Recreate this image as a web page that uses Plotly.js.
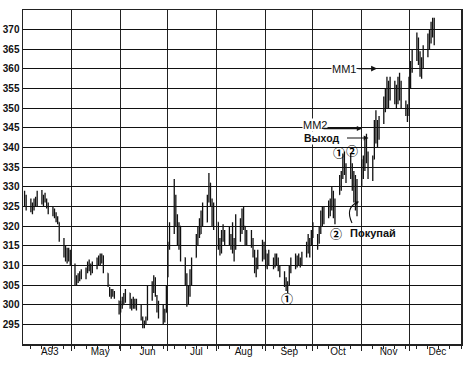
<!DOCTYPE html>
<html>
<head>
<meta charset="utf-8">
<script src="https://cdn.plot.ly/plotly-3.0.1.min.js"></script>
<style>html,body{margin:0;padding:0;background:#fff;}#chart{width:472px;height:365px;}</style>
</head>
<body>
<div id="chart"></div>
<script>
// Trading calendar (weekdays) 1993-04-01 .. 1993-12-17
const firstDay = '1993-04-01';
const lastDay = '1993-12-17';

// Daily prices, one row per week (Mon..Fri); first row = Apr 1-2
const high = [
  329,328,
  327,326,327,327.5,329,
  329.2,328,328.5,327,326,
  325,324.5,323.5,322.5,321,
  317,315,314.5,314.5,314,
  310.5,307.5,308,308.5,309,
  309.5,311,311.5,310.5,311,
  312,312.5,313,313,312.5,
  308,304.5,304,304,303.5,
  301,301,302,303,304,
  303,301.5,302,301.5,301.5,
  300,297,296,297,305,
  306,307.5,307,302.5,301,
  300,299,305,316,321,
  332,328,323,321,320,
  312,308,305,309,312,
  318,320,322,324,326,
  328,333.5,331,327,326,
  321,317,319,320.5,319,
  320,318,321,317,323,
  322,324.5,325,320,319,
  319,317,314,312,314,
  316.5,316,314,313,314,
  312,313,313,312,310,
  308.5,307,306,310,312,
  313,312.5,313,312,313.5,
  316,318,317,319,321,
  318,320,324,325,325,
  326.5,327,330,329,327,
  333,334,338.5,339,336,
  338.5,336,334,333,332,
  337,338,342,343.5,339,
  338,347,349.5,347,348,
  353,355,358,357,358,
  357,356,358,359,357,
  352,351,358,362,365,
  369.3,368,364.5,363,366,
  369,370,372,373,373
];
const low = [
  325,324,
  323.5,323,324,325,325,
  325.5,325,326,324.5,323,
  322.5,322,321,320.5,316,
  312,311,310.5,311,310,
  305,305,305.5,306,306.5,
  306.5,308,308.5,307.5,308,
  309,310,310,310.5,308,
  304.5,302,301.5,302,301.5,
  297.5,298,299,300,300.5,
  299,298.5,299,299,298.5,
  296,294,294,295,296,
  301,303,302,298,296.5,
  295,295.5,298,307,314,
  318,320,315,314,311,
  305,299.5,300,302,305,
  312,315,317,318,320,
  321,326,325,320,319,
  314,312.5,313,316,315,
  315,314,313,311,314,
  316,318,319,315,315,
  314.5,312,308,307,309,
  311,311.5,309.5,309,310,
  309,309.5,310,308.5,307,
  304.5,303.5,303,305,308,
  309,309.5,310,309.5,310,
  312,313,312,315,317,
  314,315.5,318,320,320.5,
  322,322.5,324,322,320.5,
  328,329,332,333,331,
  332,329,326,324,322.5,
  330,332,334,336,332,
  331.5,337,341,340,342,
  346,349,350,350,352,
  351,350,351,352,350,
  348,346.5,348,355,359,
  362,361,358,357.5,360,
  363,365,366.5,368,366
];
const close = [
  327,325,
  324,325,326.5,326,328,
  327,327.5,326.5,325,324,
  324,323,322,321,317,
  313,314,311.5,313.5,310.5,
  306,306.5,307,308,307.5,
  309,310.5,309,308.5,310.5,
  311,311.5,312,312.5,309,
  305,303,303,302.5,302,
  298.5,300.5,300,302,303,
  300,300.5,301,299.5,301,
  296.5,294.5,295.5,296.5,303,
  304,306.5,303,299,297.5,
  296,298,304,315,319,
  326,321,317,320,312,
  306,301,303.5,308,306,
  316,319,318,323,321,
  327,331,326,322,324,
  315,313.5,318,317,318.5,
  316,317,314,312,321,
  320,322,320,317,316,
  316,313,309,310.5,313,
  315,312,310,312,310.5,
  311,312,310.5,309,308,
  305,304,305.5,309,311,
  310,312,310.5,311.5,312.5,
  315,314,316.5,318,317.5,
  317,319,322,321,324,
  325,326,328,323,326,
  332,333,337,334,333,
  334,330,328,331,330,
  335,336,340,338,334,
  337,345,343,346,347,
  351,354,352,356,353,
  355,352,357,353,351,
  349,349,356,361,364,
  365,363,360,362,365,
  367,368,370,371,369
];
const open = [
  326,327,
  325,324,325,326.5,326,
  328,327,327.5,326.5,325,
  324,324,323,322,321,
  316,313,314,311.5,313.5,
  310,306,306.5,307,308,
  307.5,309,310.5,309,308.5,
  310.5,311,311.5,312,312.5,
  308,305,303,303,302.5,
  301,298.5,300.5,300,302,
  303,300,300.5,301,299.5,
  300,296.5,294.5,295.5,296.5,
  303,304,306.5,302,299,
  297.5,296,298,307,315,
  319,326,321,317,320,
  312,306,301,303.5,308,
  312,316,319,318,323,
  321,327,331,326,322,
  321,315,313.5,318,317,
  318.5,316,317,314,315,
  321,320,322,320,317,
  316,316,313,309,310.5,
  313,315,312,310,312,
  310.5,311,312,310.5,309,
  308,305,304,305.5,309,
  311,310,312,310.5,311.5,
  312.5,315,314,316.5,318,
  317.5,317,319,322,321,
  324,325,326,328,323,
  328,332,333,337,334,
  333,334,330,328,331,
  330,335,336,340,338,
  334,337,345,343,346,
  347,351,354,352,356,
  353,355,352,357,353,
  351,349,349,356,361,
  364,365,363,360,362,
  365,367,368,370,371
];

const yTicks = [295,300,305,310,315,320,325,330,335,340,345,350,355,360,365,370];
const monthStarts = ['1993-05-01','1993-06-01','1993-07-01','1993-08-01','1993-09-01','1993-10-01','1993-11-01','1993-12-01'];
const monthLabelDates = ['1993-04-17','1993-05-19','1993-06-18','1993-07-19','1993-08-18','1993-09-16','1993-10-17','1993-11-18','1993-12-19'];
const monthLabels = ['A93','May','Jun','Jul','Aug','Sep','Oct','Nov','Dec'];

function tradingDays(s, e) {
  const out = [];
  const d = new Date(s + 'T00:00:00Z');
  const end = new Date(e + 'T00:00:00Z');
  while (d <= end) {
    const wd = d.getUTCDay();
    if (wd !== 0 && wd !== 6) out.push(d.toISOString().slice(0, 10));
    d.setUTCDate(d.getUTCDate() + 1);
  }
  return out;
}
const dates = tradingDays(firstDay, lastDay).slice(0, high.length);

const xRange = ['1993-03-31', '1994-01-03'];
const black = '#111';

const traces = [
  {
    type: 'ohlc', x: dates, open: open, high: high, low: low, close: close,
    increasing: {line: {color: black, width: 1.3}},
    decreasing: {line: {color: black, width: 1.3}},
    tickwidth: 0.35, hoverinfo: 'skip', showlegend: false
  },
  {
    type: 'scatter', mode: 'markers', x: [dates[0]], y: [null],
    xaxis: 'x2', yaxis: 'y', hoverinfo: 'skip', showlegend: false
  }
];

function px(x) { return (x - 23) / 438; }
function py(y) { return (344 - y) / 334; }

const fam = 'Liberation Sans, Arial, sans-serif';
const circFam = 'Noto Sans CJK JP, DejaVu Sans, sans-serif';

function label(x, y, text, font, bg) {
  return {xref:'paper', yref:'paper', x:px(x), y:py(y), text:text, showarrow:false,
          xanchor:'center', yanchor:'middle', font:font,
          bgcolor: bg ? '#fff' : 'rgba(0,0,0,0)', borderpad:0};
}
function arrow(x, y, ax, ay, size, width) {
  return {xref:'paper', yref:'paper', x:px(x), y:py(y), ax:ax, ay:ay, text:'', showarrow:true,
          arrowhead:2, arrowsize:size, arrowwidth:width, arrowcolor:black};
}

const circFont = {family:circFam, size:12, color:'#000', weight:'bold'};
const annotations = [
  label(344, 68.5, 'MM1', {family:fam, size:11, color:black}, true),
  arrow(377, 68.6, -20, 0, 0.9, 1.3),
  label(314.7, 124.5, 'MM2', {family:fam, size:11, color:black}, true),
  arrow(362, 128.5, -40, 0, 0.8, 1.3),
  label(321, 138, '<b>Выход</b>', {family:fam, size:10.5, color:black}, true),
  arrow(368.5, 138, -23, 0, 0.8, 1.2),
  label(339, 152.7, '①', circFont, false),
  label(352, 150, '②', circFont, false),
  label(336, 233, '②', circFont, false),
  label(373, 233, '<b>Покупай</b>', {family:fam, size:11, color:black}, false),
  label(287, 298, '①', circFont, false),
  arrow(359, 201.5, -4, 2, 0.7, 1.1)
];

const shapes = [
  {type:'path', xref:'paper', yref:'paper',
   path:'M ' + px(352) + ' ' + py(223) + ' Q ' + px(345) + ' ' + py(208) + ' ' + px(357) + ' ' + py(202.5),
   line:{color:black, width:1.1}}
];

const layout = {
  width: 472, height: 365,
  margin: {l: 23, r: 11, t: 10, b: 21, pad: 0},
  paper_bgcolor: '#fff', plot_bgcolor: '#fff',
  showlegend: false,
  font: {family: fam, color: black},
  xaxis: {
    type: 'date', range: xRange, rangeslider: {visible: false},
    tickmode: 'array', tickvals: monthStarts, showticklabels: false,
    ticks: 'outside', ticklen: 5, tickcolor: '#222', tickwidth: 1,
    showgrid: true, gridcolor: '#222', gridwidth: 1,
    showline: true, mirror: true, linecolor: '#222', linewidth: 1.5,
    zeroline: false, fixedrange: true,
    minor: {tick0: '1993-04-05', dtick: 7 * 86400000, ticks: 'outside', ticklen: 3,
            tickcolor: '#222', tickwidth: 1, showgrid: false}
  },
  xaxis2: {
    type: 'date', range: xRange, overlaying: 'x', anchor: 'y', side: 'bottom',
    tickmode: 'array', tickvals: monthLabelDates, ticktext: monthLabels,
    showgrid: false, ticks: '', showline: false, zeroline: false,
    tickfont: {family: fam, size: 10, color: black}, fixedrange: true
  },
  yaxis: {
    range: [290, 375], tickmode: 'array', tickvals: yTicks,
    ticks: '', showgrid: true, gridcolor: '#111', gridwidth: 1,
    showline: true, mirror: true, linecolor: '#222', linewidth: 1.5,
    zeroline: false, fixedrange: true,
    tickfont: {family: fam, size: 10, color: black, weight: 'bold'}
  },
  annotations: annotations,
  shapes: shapes
};

Plotly.newPlot('chart', traces, layout, {displayModeBar: false, staticPlot: true});
</script>
</body>
</html>
